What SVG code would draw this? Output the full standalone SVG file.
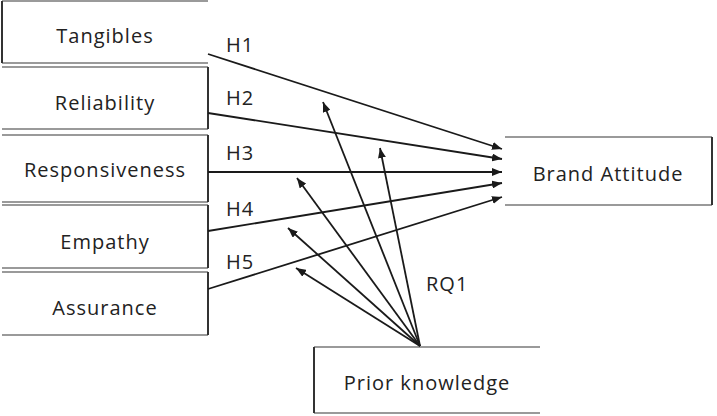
<svg xmlns="http://www.w3.org/2000/svg" width="717" height="416" viewBox="0 0 717 416">
<style>
.h{stroke:#9a9a9a;stroke-width:2;fill:none}
.v{stroke:#333;stroke-width:2;fill:none}
.t{font-family:"Open Sans","Noto Sans","Liberation Sans",sans-serif;font-size:20px;fill:#222;letter-spacing:1px}
.c{text-anchor:middle}
.e{stroke:#1a1a1a;stroke-width:1.8;fill:none;marker-end:url(#ah)}
</style>
<defs>
<marker id="ah" viewBox="0 0 10 8" refX="10" refY="4" markerWidth="10" markerHeight="8" markerUnits="userSpaceOnUse" orient="auto">
<path d="M0,0 L10,4 L0,8 z" fill="#1a1a1a"/>
</marker>
</defs>
<rect width="717" height="416" fill="#fff"/>
<g id="tangibles">
<path class="h" d="M2,1 H208 M2,63 H208"/><path class="v" d="M2,1 V63"/>
<text class="t c" x="105" y="43">Tangibles</text>
</g>
<g id="reliability">
<path class="h" d="M2,67 H208 M2,129 H208"/><path class="v" d="M208,67 V129"/>
<text class="t c" x="105" y="110">Reliability</text>
</g>
<g id="responsiveness">
<path class="h" d="M2,135 H208 M2,202 H208"/><path class="v" d="M208,135 V202"/>
<text class="t c" x="105" y="177">Responsiveness</text>
</g>
<g id="empathy">
<path class="h" d="M2,205 H208 M2,268 H208"/><path class="v" d="M208,205 V268"/>
<text class="t c" x="105" y="249">Empathy</text>
</g>
<g id="assurance">
<path class="h" d="M2,272 H208 M2,335 H208"/><path class="v" d="M208,272 V335"/>
<text class="t c" x="105" y="315">Assurance</text>
</g>
<g id="brand-attitude">
<path class="h" d="M505,137 H712 M505,205 H712"/><path class="v" d="M712,137 V205"/>
<text class="t c" x="608" y="181">Brand Attitude</text>
</g>
<g id="prior-knowledge">
<path class="h" d="M314,347 H540 M314,413 H540"/><path class="v" d="M314,347 V413"/>
<text class="t c" x="427" y="390">Prior knowledge</text>
</g>
<g id="connectors">
<line class="e" x1="208" y1="54" x2="502" y2="149"/>
<line class="e" x1="208" y1="113" x2="502" y2="159"/>
<line class="e" x1="208" y1="172" x2="502" y2="172"/>
<line class="e" x1="208" y1="231" x2="502" y2="183"/>
<line class="e" x1="208" y1="289" x2="502" y2="197"/>
<line class="e" x1="420" y1="346" x2="323" y2="102"/>
<line class="e" x1="420" y1="346" x2="380" y2="148"/>
<line class="e" x1="420" y1="346" x2="297" y2="178"/>
<line class="e" x1="420" y1="346" x2="288" y2="228"/>
<line class="e" x1="420" y1="346" x2="296" y2="268"/>
<text class="t" x="226" y="52">H1</text>
<text class="t" x="226" y="105">H2</text>
<text class="t" x="226" y="160">H3</text>
<text class="t" x="226" y="216">H4</text>
<text class="t" x="226" y="269">H5</text>
<text class="t" x="426" y="291">RQ1</text>
</g>
</svg>
